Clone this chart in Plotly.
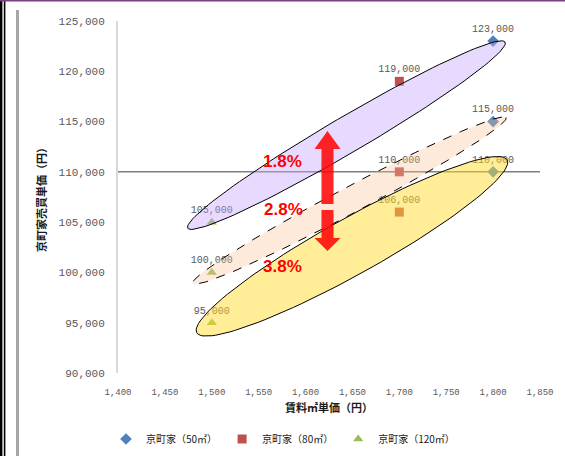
import math
import plotly.graph_objects as go

# ---- data -------------------------------------------------------------
series_names = ["京町家（50㎡）", "京町家（80㎡）", "京町家（120㎡）"]
series_colors = ["#4F81BD", "#C0504D", "#9BBB59"]
series_symbols = ["diamond", "square", "triangle-up"]
rent_per_sqm = [1800, 1700, 1500]          # x value of each series
prices = [
    [123000, 115000, 110000],   # 50㎡
    [119000, 110000, 106000],   # 80㎡
    [105000, 100000, 95000],    # 120㎡
]
yield_labels = ["1.8%", "2.8%", "3.8%"]
x_ticks = list(range(1400, 1851, 50))
y_ticks = list(range(90000, 125001, 5000))

# ---- geometry ---------------------------------------------------------
W, H = 565, 456
ML, MR, MT, MB = 118, 25, 21, 83
PW, PH = W - ML - MR, H - MT - MB
XR = (1400, 1850)
YR = (90000, 125000)


def to_px(x, y):
    px = ML + (x - XR[0]) / (XR[1] - XR[0]) * PW
    py = MT + (YR[1] - y) / (YR[1] - YR[0]) * PH
    return px, py


def to_data(px, py):
    x = XR[0] + (px - ML) / PW * (XR[1] - XR[0])
    y = YR[1] - (py - MT) / PH * (YR[1] - YR[0])
    return x, y


def to_paper(px, py):
    return (px - ML) / PW, (MT + PH - py) / PH


def ellipse(p1, p2, b, n=120):
    cx, cy = (p1[0] + p2[0]) / 2, (p1[1] + p2[1]) / 2
    dx, dy = p2[0] - p1[0], p2[1] - p1[1]
    a = math.hypot(dx, dy) / 2
    ux, uy = dx / (2 * a), dy / (2 * a)
    vx, vy = -uy, ux
    xs, ys = [], []
    for i in range(n + 1):
        t = 2 * math.pi * i / n
        px = cx + a * math.cos(t) * ux + b * math.sin(t) * vx
        py = cy + a * math.cos(t) * uy + b * math.sin(t) * vy
        x, y = to_data(px, py)
        xs.append(x)
        ys.append(y)
    return xs, ys


fig = go.Figure()

# scatter series with value labels
for name, color, sym, x, vals in zip(series_names, series_colors, series_symbols,
                                     rent_per_sqm, prices):
    fig.add_trace(go.Scatter(
        x=[x] * len(vals), y=vals, mode="markers+text", name=name,
        marker=dict(color=color, symbol=sym, size=9),
        text=[f"{v:,}" for v in vals], textposition="top center",
        textfont=dict(family="Liberation Mono", size=10, color="#595959"),
        cliponaxis=False,
    ))

# bands enclosing the 120㎡ point and the 50㎡ point of each level
band_fill = ["rgba(200,165,255,0.42)", "rgba(250,195,150,0.35)", "rgba(255,220,50,0.5)"]
band_dash = ["solid", "dash", "solid"]
band_half = [18, 13, 28]
band_pad_left = [(-24, 6), (-19, 11), (-15, 10)]
band_pad_right = [(12, 1), (13, -4), (14, -12)]
for i in range(3):
    gl = to_px(rent_per_sqm[2], prices[2][i])
    bl = to_px(rent_per_sqm[0], prices[0][i])
    p1 = (gl[0] + band_pad_left[i][0], gl[1] + band_pad_left[i][1])
    p2 = (bl[0] + band_pad_right[i][0], bl[1] + band_pad_right[i][1])
    ex, ey = ellipse(p1, p2, band_half[i])
    fig.add_trace(go.Scatter(
        x=ex, y=ey, mode="lines", fill="toself", fillcolor=band_fill[i],
        line=dict(color="black", width=1, dash=band_dash[i]),
        hoverinfo="skip", showlegend=False,
    ))

shapes = []
# horizontal axis crossing at 110,000
shapes.append(dict(type="line", xref="paper", yref="y", x0=0, x1=1,
                   y0=110000, y1=110000, line=dict(color="#7f7f7f", width=1.5),
                   layer="below"))

# double-headed arrow (split in the middle)
ax = 327.5
top = [(ax, 131), (ax + 13, 149), (ax + 6, 149), (ax + 6, 204), (ax - 6, 204),
       (ax - 6, 149), (ax - 13, 149)]
bot = [(ax - 6, 210), (ax + 6, 210), (ax + 6, 238), (ax + 13, 238), (ax, 251),
       (ax - 13, 238), (ax - 6, 238)]
for poly in (top, bot):
    pts = [to_paper(*p) for p in poly]
    path = "M " + " L ".join(f"{x:.4f},{y:.4f}" for x, y in pts) + " Z"
    shapes.append(dict(type="path", xref="paper", yref="paper", path=path,
                       fillcolor="rgba(255,0,0,0.85)", line=dict(width=0)))


# slide frame
def vline(px, py0, py1, color, width):
    x, y0 = to_paper(px, py0)
    _, y1 = to_paper(px, py1)
    return dict(type="line", xref="paper", yref="paper", x0=x, x1=x, y0=y0, y1=y1,
                line=dict(color=color, width=width))


shapes.append(vline(1.2, 0, H, "black", 2.4))
shapes.append(vline(4.6, 0, H, "black", 1.6))
shapes.append(vline(17.5, 10, H, "#a6a6a6", 3))
tx0, ty = to_paper(0, 0.8)
tx1, _ = to_paper(W, 0.8)
shapes.append(dict(type="line", xref="paper", yref="paper", x0=tx0, x1=tx1, y0=ty, y1=ty,
                   line=dict(color="#7b3f7b", width=1.6)))

annotations = []
label_pos = [(282, 161), (283, 209), (282, 266)]
for txt, (px, py) in zip(yield_labels, label_pos):
    x, y = to_paper(px, py)
    annotations.append(dict(x=x, y=y, xref="paper", yref="paper", text=f"<b>{txt}</b>",
                            xanchor="center", yanchor="middle",
                            showarrow=False, font=dict(family="Liberation Sans", size=17,
                                                       color="#ff0000")))

_, legend_y = to_paper(0, 439)
legend_x, _ = to_paper(283, 0)

fig.update_layout(
    width=W, height=H,
    margin=dict(l=ML, r=MR, t=MT, b=MB, autoexpand=False),
    paper_bgcolor="white", plot_bgcolor="white",
    showlegend=True,
    legend=dict(orientation="h", x=legend_x, xanchor="center", y=legend_y,
                yanchor="middle",
                font=dict(family="Noto Sans CJK JP", size=10, color="#1a1a1a"),
                itemwidth=30, bgcolor="rgba(0,0,0,0)"),
    xaxis=dict(range=list(XR), tickvals=x_ticks, automargin=False,
               ticktext=[f"{v:,}" for v in x_ticks], showgrid=False, zeroline=False,
               showline=False, ticks="", ticklabelstandoff=12,
               tickfont=dict(family="Liberation Mono", size=9, color="#595959"),
               title=dict(text="<b>賃料㎡単価（円）</b>", standoff=7,
                          font=dict(family="Noto Sans CJK JP", size=11, color="#1a1a1a"))),
    yaxis=dict(range=list(YR), tickvals=y_ticks, automargin=False,
               ticktext=[f"{v:,}" for v in y_ticks], showgrid=False, zeroline=False,
               showline=True, linecolor="#d9d9d9", linewidth=2, ticks="",
               ticklabelstandoff=9,
               tickfont=dict(family="Liberation Mono", size=11, color="#595959"),
               title=dict(text="<b>京町家売買単価（円）</b>", standoff=10,
                          font=dict(family="Noto Sans CJK JP", size=11, color="#1a1a1a"))),
    shapes=shapes,
    annotations=annotations,
)

fig.write_html("out.html")
